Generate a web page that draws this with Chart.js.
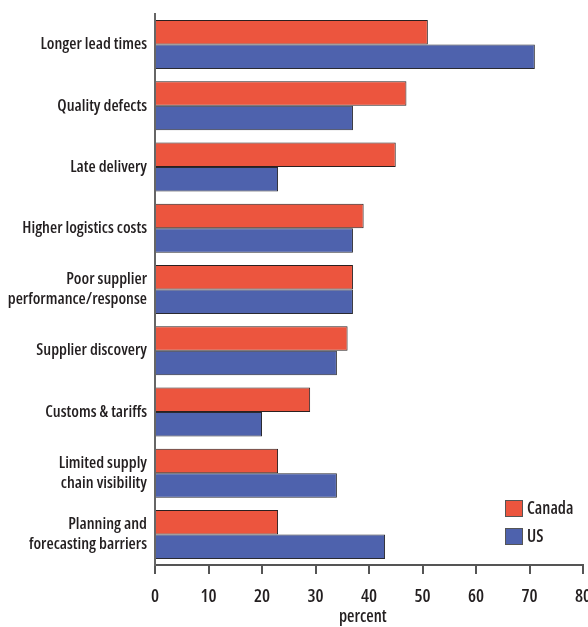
<!DOCTYPE html>
<html>
<head>
<meta charset="utf-8">
<script src="https://cdn.jsdelivr.net/npm/chart.js@4/dist/chart.umd.min.js"></script>
<style>
  html, body { margin: 0; padding: 0; background: #fff; overflow: hidden; }
  #wrap { width: 588px; height: 627px; position: relative; }
</style>
</head>
<body>
<div id="wrap"><canvas id="barChart"></canvas></div>
<script>
const categories = [
    'Longer lead times',
    'Quality defects',
    'Late delivery',
    'Higher logistics costs',
    ['Poor supplier', 'performance/response'],
    'Supplier discovery',
    'Customs & tariffs',
    ['Limited supply', 'chain visibility'],
    ['Planning and', 'forecasting barriers']
];
const canadaValues = [51, 47, 45, 39, 37, 36, 29, 23, 23];
const usValues = [71, 37, 23, 37, 37, 34, 20, 34, 43];
const xTicks = [0, 10, 20, 30, 40, 50, 60, 70, 80];

const FONT = '"Open Sans", sans-serif';
const WEIGHT = '600 condensed';   // weight + stretch keyword, goes into the canvas font string
const INK = '#231f20';

// legend drawn inside the plot, bottom right
const insideLegend = {
    id: 'insideLegend',
    afterDraw(chart) {
        const ctx = chart.ctx;
        const area = chart.chartArea;
        let x = area.right - 78;
        let y = area.bottom - 65;
        ctx.save();
        ctx.font = WEIGHT + ' 17px ' + FONT;
        ctx.textBaseline = 'middle';
        chart.data.datasets.forEach((ds, i) => {
            const top = y + i * 28;
            ctx.fillStyle = ds.backgroundColor;
            ctx.fillRect(x, top, 18, 17);
            ctx.strokeStyle = '#555';
            ctx.lineWidth = 1;
            ctx.strokeRect(x + 0.5, top + 0.5, 17, 16);
            ctx.fillStyle = INK;
            ctx.fillText(ds.label, x + 22, top + 9);
        });
        ctx.restore();
    }
};

new Chart(document.getElementById('barChart'), {
    type: 'bar',
    data: {
        labels: categories,
        datasets: [
            {
                label: 'Canada',
                data: canadaValues,
                backgroundColor: '#ec553e',
                borderColor: '#2a2020',
                borderWidth: 1,
                categoryPercentage: 0.8,
                barPercentage: 1.0
            },
            {
                label: 'US',
                data: usValues,
                backgroundColor: '#4e62ad',
                borderColor: '#2a2a30',
                borderWidth: 1,
                categoryPercentage: 0.8,
                barPercentage: 1.0
            }
        ]
    },
    options: {
        indexAxis: 'y',
        responsive: true,
        maintainAspectRatio: false,
        animation: false,
        layout: { padding: { top: 14, right: 5, left: 0, bottom: 0 } },
        plugins: {
            legend: { display: false },
            tooltip: { enabled: false }
        },
        scales: {
            x: {
                min: 0,
                max: 80,
                afterBuildTicks(axis) { axis.ticks = xTicks.map(v => ({ value: v })); },
                afterFit(axis) {
                    axis.height = 62;
                    axis.paddingRight = 0;   // let "80" run off the edge like the original
                },
                grid: {
                    drawOnChartArea: false,
                    drawTicks: true,
                    tickLength: 9,
                    color: '#555',
                    lineWidth: 2
                },
                border: { display: true, color: '#555', width: 2 },
                ticks: {
                    color: INK,
                    padding: 12,
                    font: { family: FONT, size: 18, weight: WEIGHT }
                },
                title: {
                    display: true,
                    text: 'percent    ',
                    color: INK,
                    padding: { top: 0, bottom: 0 },
                    font: { family: FONT, size: 17, weight: WEIGHT }
                }
            },
            y: {
                afterFit(axis) {
                    axis.width = 155;
                    axis.paddingTop = 0;
                    axis.paddingBottom = 0;
                },
                grid: { display: false },
                border: { display: true, color: '#666', width: 2 },
                ticks: {
                    color: INK,
                    padding: 0,
                    font: { family: FONT, size: 16.5, weight: WEIGHT, lineHeight: 1.2 }
                }
            }
        }
    },
    plugins: [insideLegend]
});
</script>
</body>
</html>
